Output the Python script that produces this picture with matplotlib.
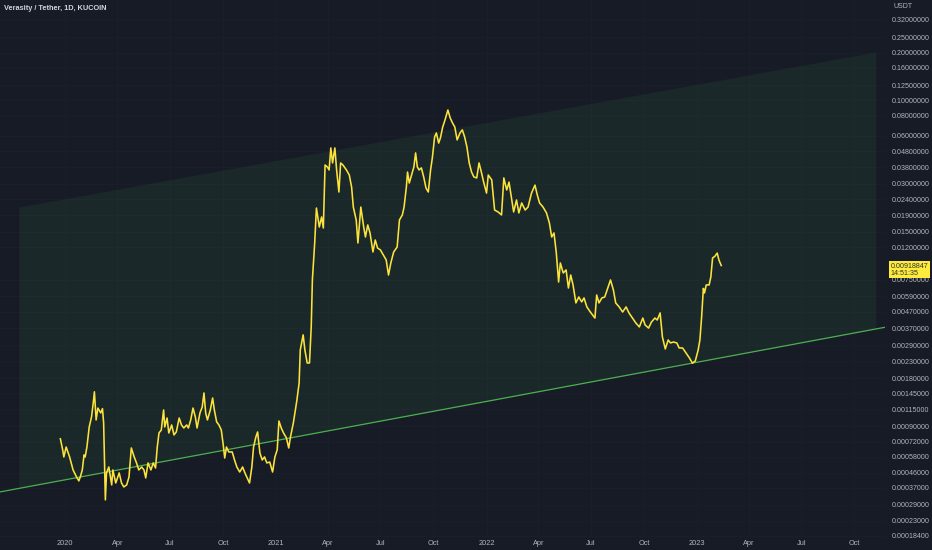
import numpy as np
import pandas as pd
import matplotlib
matplotlib.use('Agg')
import matplotlib.pyplot as plt
import matplotlib.dates as mdates
from matplotlib.ticker import NullLocator

plt.rcParams['font.family'] = ['Liberation Sans', 'DejaVu Sans']

title = 'Verasity / Tether, 1D, KUCOIN'
currency = 'USDT'
last_time = '14:51:35'

dates = [
    '2019-12-24', '2019-12-28', '2019-12-30', '2020-01-03', '2020-01-09', '2020-01-15', '2020-01-21',
    '2020-01-25', '2020-01-28', '2020-01-31', '2020-02-03', '2020-02-05', '2020-02-08', '2020-02-12',
    '2020-02-16', '2020-02-19', '2020-02-21', '2020-02-24', '2020-02-27', '2020-03-03', '2020-03-06',
    '2020-03-08', '2020-03-11', '2020-03-13', '2020-03-17', '2020-03-22', '2020-03-24', '2020-03-29',
    '2020-04-04', '2020-04-08', '2020-04-12', '2020-04-17', '2020-04-21', '2020-04-25', '2020-04-30',
    '2020-05-04', '2020-05-08', '2020-05-13', '2020-05-17', '2020-05-20', '2020-05-24', '2020-05-29',
    '2020-06-02', '2020-06-06', '2020-06-09', '2020-06-12', '2020-06-16', '2020-06-20', '2020-06-22',
    '2020-06-26', '2020-06-29', '2020-07-04', '2020-07-08', '2020-07-12', '2020-07-17', '2020-07-21',
    '2020-07-25', '2020-07-30', '2020-08-02', '2020-08-06', '2020-08-10', '2020-08-14', '2020-08-17',
    '2020-08-22', '2020-08-26', '2020-08-29', '2020-09-01', '2020-09-04', '2020-09-09', '2020-09-13',
    '2020-09-16', '2020-09-20', '2020-09-24', '2020-09-28', '2020-10-01', '2020-10-04', '2020-10-07',
    '2020-10-11', '2020-10-17', '2020-10-21', '2020-10-25', '2020-10-30', '2020-11-04', '2020-11-08',
    '2020-11-12', '2020-11-16', '2020-11-20', '2020-11-23', '2020-11-27', '2020-11-30', '2020-12-04',
    '2020-12-08', '2020-12-12', '2020-12-16', '2020-12-21', '2020-12-26', '2020-12-30',
    '2021-01-03', '2021-01-06', '2021-01-10', '2021-01-14', '2021-01-19', '2021-01-23', '2021-01-26',
    '2021-01-31', '2021-02-06', '2021-02-10', '2021-02-12', '2021-02-17', '2021-02-20', '2021-02-24',
    '2021-02-28', '2021-03-03', '2021-03-05', '2021-03-09', '2021-03-12', '2021-03-17', '2021-03-21',
    '2021-03-24', '2021-03-27', '2021-03-31', '2021-04-03', '2021-04-06', '2021-04-09', '2021-04-13',
    '2021-04-16', '2021-04-20', '2021-04-23', '2021-04-27', '2021-05-03', '2021-05-08', '2021-05-12',
    '2021-05-15', '2021-05-20', '2021-05-23', '2021-05-28', '2021-06-02', '2021-06-05', '2021-06-09',
    '2021-06-13', '2021-06-18', '2021-06-22', '2021-06-26', '2021-07-01', '2021-07-06', '2021-07-11',
    '2021-07-15', '2021-07-19', '2021-07-24', '2021-07-30', '2021-08-03', '2021-08-08', '2021-08-11',
    '2021-08-15', '2021-08-17', '2021-08-20', '2021-08-24', '2021-08-28', '2021-08-31', '2021-09-03',
    '2021-09-06', '2021-09-10', '2021-09-14', '2021-09-18', '2021-09-22', '2021-09-26', '2021-09-29',
    '2021-10-03', '2021-10-06', '2021-10-10', '2021-10-13', '2021-10-17', '2021-10-21', '2021-10-26',
    '2021-10-30', '2021-11-03', '2021-11-07', '2021-11-11', '2021-11-16', '2021-11-20', '2021-11-24',
    '2021-11-28', '2021-12-02', '2021-12-06', '2021-12-10', '2021-12-15', '2021-12-19', '2021-12-23',
    '2021-12-27',
    '2022-01-01', '2022-01-04', '2022-01-10', '2022-01-15', '2022-01-21', '2022-01-27', '2022-01-31',
    '2022-02-05', '2022-02-09', '2022-02-13', '2022-02-17', '2022-02-22', '2022-02-26', '2022-03-03',
    '2022-03-09', '2022-03-14', '2022-03-20', '2022-03-26', '2022-03-30', '2022-04-03', '2022-04-09',
    '2022-04-15', '2022-04-20', '2022-04-24', '2022-04-28', '2022-05-02', '2022-05-06', '2022-05-09',
    '2022-05-14', '2022-05-19', '2022-05-23', '2022-05-27', '2022-05-31', '2022-06-05', '2022-06-10',
    '2022-06-15', '2022-06-19', '2022-06-24', '2022-06-30', '2022-07-08', '2022-07-11', '2022-07-15',
    '2022-07-20', '2022-07-25', '2022-07-31', '2022-08-04', '2022-08-09', '2022-08-13', '2022-08-19',
    '2022-08-25', '2022-08-31', '2022-09-05', '2022-09-11', '2022-09-17', '2022-09-23', '2022-09-29',
    '2022-10-03', '2022-10-09', '2022-10-14', '2022-10-20', '2022-10-24', '2022-10-29', '2022-11-02',
    '2022-11-07', '2022-11-12', '2022-11-16', '2022-11-21', '2022-11-27', '2022-12-01', '2022-12-07',
    '2022-12-13', '2022-12-19', '2022-12-24', '2022-12-29',
    '2023-01-03', '2023-01-06', '2023-01-09', '2023-01-12', '2023-01-14', '2023-01-17', '2023-01-22',
    '2023-01-25', '2023-01-28', '2023-02-01', '2023-02-05', '2023-02-08', '2023-02-12',
]
close = [
    0.00075, 0.000638, 0.000577, 0.000666, 0.000577, 0.000478, 0.000432,
    0.000408, 0.000438, 0.000478, 0.000594, 0.000577, 0.000666, 0.00089,
    0.00103, 0.00126, 0.00148, 0.000985, 0.00117, 0.00109, 0.00116,
    0.000943, 0.00031, 0.000458, 0.000499, 0.000385, 0.000478, 0.000396,
    0.000458, 0.000396, 0.000374, 0.000385, 0.000432, 0.000657, 0.000577,
    0.000529, 0.000478, 0.000499, 0.000478, 0.000426, 0.000529, 0.000478,
    0.000529, 0.000492, 0.000666, 0.000816, 0.000852, 0.001138, 0.00089,
    0.001013, 0.000816, 0.000916, 0.000793, 0.000828, 0.001013, 0.000916,
    0.000877, 0.000916, 0.000877, 0.000985, 0.00117, 0.00103, 0.000877,
    0.001089, 0.001188, 0.001455, 0.001089, 0.000985, 0.001138, 0.001353,
    0.001138, 0.000957, 0.000916, 0.000852, 0.000706, 0.000568, 0.000666,
    0.00062, 0.00062, 0.000552, 0.000499, 0.000464, 0.000499, 0.000458,
    0.000426, 0.000396, 0.000499, 0.000666, 0.00077, 0.000828, 0.000611,
    0.000552, 0.000577, 0.000529, 0.000536, 0.000464, 0.000577,
    0.000639, 0.00097, 0.000877, 0.000816, 0.000759, 0.000657, 0.00077,
    0.000943, 0.0013, 0.00168, 0.00271, 0.00337, 0.00271, 0.002245,
    0.002245, 0.00378, 0.00746, 0.01273, 0.0211, 0.01604, 0.01854,
    0.01581, 0.0393, 0.0382, 0.0366, 0.0503, 0.0405, 0.0503,
    0.0366, 0.0266, 0.0405, 0.0393, 0.0366, 0.0340, 0.0286,
    0.0214, 0.01776, 0.01273, 0.0214, 0.01604, 0.01388, 0.01652,
    0.01471, 0.01118, 0.01329, 0.01184, 0.01151, 0.0107, 0.00996,
    0.00801, 0.00953, 0.01118, 0.01201, 0.01776, 0.01909, 0.0214,
    0.0286, 0.0355, 0.0303, 0.0340, 0.0382, 0.0468, 0.0382,
    0.0366, 0.0377, 0.0331, 0.0282, 0.0266, 0.0366, 0.0435,
    0.0590, 0.0625, 0.0540, 0.0581, 0.0681, 0.0754, 0.0871,
    0.0776, 0.0722, 0.0681, 0.0565, 0.0625, 0.0653, 0.0590,
    0.0510, 0.0405, 0.0355, 0.0331, 0.0326, 0.0405, 0.0355,
    0.0307,
    0.0262, 0.034, 0.0317, 0.0205, 0.01994, 0.0191, 0.0326,
    0.0274, 0.0307, 0.0248, 0.01994, 0.0237, 0.01965, 0.0227,
    0.0205, 0.0214, 0.0262, 0.0294, 0.0255, 0.0227, 0.0214,
    0.01965, 0.0170, 0.01388, 0.01471, 0.01102, 0.00724, 0.00953,
    0.00825, 0.00862, 0.00664, 0.00801, 0.00694, 0.00535, 0.00583,
    0.00543, 0.00575, 0.00505, 0.00469, 0.00430, 0.00600, 0.00535,
    0.00575, 0.00583, 0.00674, 0.00746, 0.00645, 0.00535, 0.00505,
    0.00469, 0.00505, 0.00463, 0.00430, 0.00400, 0.00378, 0.00430,
    0.00389, 0.00372, 0.00406, 0.00430, 0.00418, 0.00463, 0.00327,
    0.00275, 0.00313, 0.00300, 0.00304, 0.00300, 0.00279, 0.00279,
    0.00259, 0.00241, 0.00224, 0.00231,
    0.00271, 0.00313, 0.00437, 0.00660, 0.00618, 0.00694, 0.00694,
    0.00779, 0.01025, 0.0105, 0.0110, 0.00996, 0.00918847,
]

# parallel channel anchors (start / end of the drawing)
channel_dates = ['2019-10-13', '2023-11-07']
channel_lower = [0.000366, 0.00367]
channel_upper = [0.0214, 0.2015]

price_ticks = [0.32, 0.25, 0.2, 0.16, 0.125, 0.1, 0.08, 0.06, 0.048, 0.038, 0.03,
               0.024, 0.019, 0.015, 0.012, 0.0075, 0.0059, 0.0047, 0.0037, 0.0029,
               0.0023, 0.0018, 0.00145, 0.00115, 0.0009, 0.00072, 0.00058, 0.00046,
               0.00037, 0.00029, 0.00023, 0.000184]

time_ticks = ['2020-01-01', '2020-04-01', '2020-07-01', '2020-10-01',
              '2021-01-01', '2021-04-01', '2021-07-01', '2021-10-01',
              '2022-01-01', '2022-04-01', '2022-07-01', '2022-10-01',
              '2023-01-01', '2023-04-01', '2023-07-01', '2023-10-01']

bg = '#171b26'
txt = '#b2b5be'

fig = plt.figure(figsize=(9.32, 5.5), dpi=100, facecolor=bg)
ax = fig.add_axes([0, 13 / 550, 885 / 932, 537 / 550])
ax.set_facecolor(bg)

ax.set_yscale('log')
ax.set_ylim(0.0001813, 0.4273)
ax.set_xlim(pd.Timestamp('2019-09-10 07:00'), pd.Timestamp('2023-11-23'))

# channel fill + lower line
cd = pd.to_datetime(channel_dates)
ax.fill_between(cd, channel_lower, channel_upper, color='#4caf50', alpha=0.09, lw=0, zorder=1)
ax.axline((mdates.date2num(cd[0]), channel_lower[0]),
          (mdates.date2num(cd[1]), channel_lower[1]),
          color='#4caf50', lw=0.9, zorder=2)

ax.plot(pd.to_datetime(dates), close, color='#fbe33c', lw=1.15, zorder=3)

# axes styling
for s in ax.spines.values():
    s.set_visible(False)
ax.set_axisbelow(True)
ax.yaxis.tick_right()
ax.set_yticks(price_ticks)
ax.set_yticklabels(['%.8f' % t for t in price_ticks])
ax.yaxis.set_minor_locator(NullLocator())
ax.tick_params(axis='y', length=0, pad=5, labelsize=5.1, colors=txt)

tt = pd.to_datetime(time_ticks)
ax.set_xticks(tt)
ax.set_xticklabels([str(d.year) if d.month == 1 else d.strftime('%b') for d in tt])
ax.tick_params(axis='x', length=0, pad=2, labelsize=5.3, colors=txt)
ax.grid(True, color='#1b1f2b', lw=0.6)

fig.text(4 / 932, 1 - 8 / 550, title, fontsize=5.3, color='#d1d4dc', va='center',
         fontweight='bold')
fig.text(893 / 932, 1 - 7 / 550, currency, fontsize=5, color=txt, va='center')

# last price label on the scale
ax.annotate('%.8f\n%s' % (close[-1], last_time), xy=(1.0, close[-1]),
            xycoords=('axes fraction', 'data'), xytext=(4, -3), textcoords='offset points',
            fontsize=5.1, color='#2a2e39', va='center', ha='left', linespacing=1.0,
            annotation_clip=False,
            bbox=dict(boxstyle='square,pad=0.25', fc='#ffeb3b', ec='none'))

fig.savefig('out.png', dpi=100, facecolor=bg)
